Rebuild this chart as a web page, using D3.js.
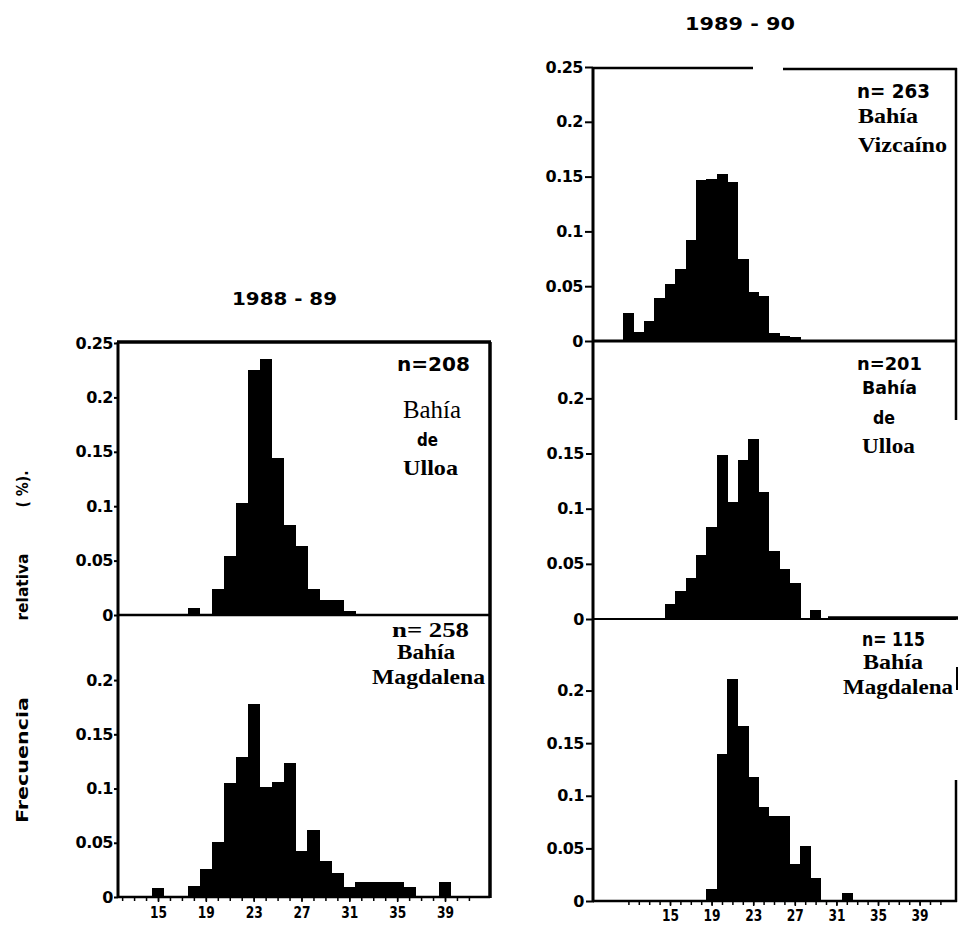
<!DOCTYPE html>
<html>
<head>
<meta charset="utf-8">
<script src="https://cdn.jsdelivr.net/npm/d3@7"></script>
<style>
body { margin: 0; background: #fff; }
svg { display: block; }
</style>
</head>
<body>
<script>
//----------------
//Data
//----------------
var yearLabels = ['1988 - 89', '1989 - 90']
var yTickValues = [0, 0.05, 0.1, 0.15, 0.2, 0.25]
var xTickLabels = [15, 19, 23, 27, 31, 35, 39]
var yTitleWords = ['Frecuencia', 'relativa', '( %).']

//1988-89 Bahia de Ulloa
var ulloa88Bins = [18, 20, 21, 22, 23, 24, 25, 26, 27, 28, 29, 30, 31]
var ulloa88Freq = [0.006, 0.024, 0.054, 0.103, 0.225, 0.235, 0.144, 0.083, 0.063, 0.024, 0.014, 0.014, 0.004]

//1988-89 Bahia Magdalena
var magda88Bins = [15, 18, 19, 20, 21, 22, 23, 24, 25, 26, 27, 28, 29, 30, 31, 32, 33, 34, 35, 36, 39]
var magda88Freq = [0.008, 0.010, 0.026, 0.051, 0.105, 0.129, 0.178, 0.101, 0.106, 0.124, 0.042, 0.062, 0.033, 0.022, 0.009, 0.014, 0.014, 0.014, 0.014, 0.009, 0.014]

//1989-90 Bahia Vizcaino
var vizca89Bins = [11, 12, 13, 14, 15, 16, 17, 18, 19, 20, 21, 22, 23, 24, 25, 26, 27]
var vizca89Freq = [0.026, 0.008, 0.018, 0.039, 0.052, 0.066, 0.092, 0.147, 0.148, 0.152, 0.145, 0.075, 0.045, 0.041, 0.007, 0.005, 0.004]

//1989-90 Bahia de Ulloa
var ulloa89Bins = [15, 16, 17, 18, 19, 20, 21, 22, 23, 24, 25, 26, 27, 29]
var ulloa89Freq = [0.014, 0.025, 0.037, 0.058, 0.083, 0.149, 0.106, 0.144, 0.163, 0.115, 0.062, 0.045, 0.033, 0.008]

//1989-90 Bahia Magdalena
var magda89Bins = [19, 20, 21, 22, 23, 24, 25, 26, 27, 28, 29, 32]
var magda89Freq = [0.011, 0.140, 0.211, 0.166, 0.118, 0.089, 0.081, 0.081, 0.035, 0.052, 0.022, 0.008]

//----------------
//Setup
//----------------
var SANS = "'DejaVu Sans', sans-serif"
var SERIF = "'Liberation Serif', 'Times New Roman', serif"

var svg = d3.select('body').append('svg')
	.attr('width', 958)
	.attr('height', 929)

svg.append('rect').attr('width', 958).attr('height', 929).attr('fill', '#fff')

var xLeft = d3.scaleLinear().domain([15, 39]).range([158, 445])
var xRight = d3.scaleLinear().domain([15, 39]).range([670, 919.6])

var panels = [
	{ bins: ulloa88Bins, freq: ulloa88Freq, x: xLeft, axisX: 118, tickSize: 4, tickPad: 1,
		y: d3.scaleLinear().domain([0, 0.25]).range([615, 343]), ticks: yTickValues },
	{ bins: magda88Bins, freq: magda88Freq, x: xLeft, axisX: 118, tickSize: 4, tickPad: 1,
		y: d3.scaleLinear().domain([0, 0.26]).range([897, 615]), ticks: yTickValues.slice(0, 5) },
	{ bins: vizca89Bins, freq: vizca89Freq, x: xRight, axisX: 593, tickSize: 8, tickPad: 2,
		y: d3.scaleLinear().domain([0, 0.25]).range([341, 67]), ticks: yTickValues },
	{ bins: ulloa89Bins, freq: ulloa89Freq, x: xRight, axisX: 594, tickSize: 8, tickPad: 2,
		y: d3.scaleLinear().domain([0, 0.252]).range([619, 341]), ticks: yTickValues.slice(0, 5) },
	{ bins: magda89Bins, freq: magda89Freq, x: xRight, axisX: 594, tickSize: 8, tickPad: 2,
		y: d3.scaleLinear().domain([0, 0.268]).range([901, 619]), ticks: yTickValues.slice(0, 5) }
]

//----------------
//Bars (crisp edges so neighbours touch without seams)
//----------------
panels.forEach(function(p){
	var rows = p.bins.map(function(b, i){ return { bin: b, f: p.freq[i] } })
	svg.append('g').attr('shape-rendering', 'crispEdges')
		.selectAll('rect').data(rows).enter().append('rect')
		.attr('x', function(d){ return p.x(d.bin - 0.5) })
		.attr('width', function(d){ return p.x(d.bin + 0.5) - p.x(d.bin - 0.5) + 0.5 })
		.attr('y', function(d){ return p.y(d.f) })
		.attr('height', function(d){ return p.y(0) - p.y(d.f) })
		.attr('fill', '#000')
})

//----------------
//Y axes
//----------------
function fmtY(d){ return d === 0 ? '0' : String(d) }

panels.forEach(function(p){
	var g = svg.append('g')
		.attr('transform', 'translate(' + p.axisX + ',0)')
		.call(d3.axisLeft(p.y).tickValues(p.ticks).tickSize(p.tickSize).tickPadding(p.tickPad).tickFormat(fmtY))
	g.select('.domain').remove()
	g.selectAll('.tick line').attr('stroke', '#000').attr('stroke-width', 2)
	g.selectAll('.tick text')
		.attr('fill', '#000')
		.style('font-family', SANS)
		.style('font-weight', 'bold')
		.style('font-size', '16px')
		.style('letter-spacing', '-0.5px')
})

//----------------
//X axes (bottom panels only)
//----------------
function drawXAxis(x, y0, from, pad){
	var minor = svg.append('g')
		.attr('transform', 'translate(0,' + y0 + ')')
		.call(d3.axisBottom(x).tickValues(d3.range(from, 42)).tickSize(4).tickFormat(''))
	minor.select('.domain').remove()
	minor.selectAll('.tick line').attr('stroke', '#000').attr('stroke-width', 1.5)

	var major = svg.append('g')
		.attr('transform', 'translate(0,' + y0 + ')')
		.call(d3.axisBottom(x).tickValues(xTickLabels).tickSize(5).tickPadding(pad).tickFormat(d3.format('d')))
	major.select('.domain').remove()
	major.selectAll('.tick line').attr('stroke', '#000').attr('stroke-width', 1.5)
	major.selectAll('.tick text')
		.attr('fill', '#000')
		.attr('textLength', 17)
		.attr('lengthAdjust', 'spacingAndGlyphs')
		.style('font-family', SANS)
		.style('font-weight', 'bold')
		.style('font-size', '16px')
}
drawXAxis(xLeft, 897, 12, 5)
drawXAxis(xRight, 901, 11, 4)

//----------------
//Frames
//----------------
function line(x1, y1, x2, y2, w){
	svg.append('line')
		.attr('x1', x1).attr('y1', y1).attr('x2', x2).attr('y2', y2)
		.attr('stroke', '#000').attr('stroke-width', w)
}

//left column
line(118, 342, 118, 898, 3)
line(117, 342, 491, 342, 3.5)
line(490, 342, 490, 898, 3.5)
line(118, 615, 490, 615, 2.5)
line(118, 897, 490, 897, 2.5)

//right column
line(593, 67, 593, 902, 3)
line(593, 68, 753, 68, 2.5)
line(783, 69, 957, 69, 2.5)
line(956, 68, 956, 420, 2.5)
line(957, 667, 957, 690, 2)
line(956, 780, 956, 902, 2.5)
line(593, 341, 956, 341, 3)
line(594, 619, 956, 619, 2)
line(828, 618, 958, 618, 3.5)
line(593, 901, 957, 901, 2.5)

//----------------
//Titles and annotations
//----------------
function addText(str, x, y, family, weight, size, width){
	var t = svg.append('text')
		.attr('x', x).attr('y', y)
		.attr('fill', '#000')
		.style('font-family', family)
		.style('font-weight', weight)
		.style('font-size', size + 'px')
		.text(str)
	if ( width ) { t.attr('textLength', width).attr('lengthAdjust', 'spacingAndGlyphs') }
	return t
}

addText(yearLabels[0], 232, 305, SANS, 'bold', 18, 105)
addText(yearLabels[1], 685, 30, SANS, 'bold', 18, 110)

//1988-89 Ulloa
addText('n=208', 397, 371, SANS, 'bold', 20, 73)
addText('Bahía', 403, 418, SERIF, 'normal', 25, 58)
addText('de', 417, 446, SANS, 'bold', 18, 21)
addText('Ulloa', 403, 475, SERIF, 'bold', 21, 55)

//1988-89 Magdalena
addText('n= 258', 392, 637, SERIF, 'bold', 22, 77)
addText('Bahía', 397, 659, SERIF, 'bold', 21, 58)
addText('Magdalena', 372, 684, SERIF, 'bold', 21, 113)

//1989-90 Vizcaino
addText('n= 263', 857, 98, SANS, 'bold', 19, 73)
addText('Bahía', 858, 123, SERIF, 'bold', 21, 60)
addText('Vizcaíno', 858, 152, SERIF, 'bold', 21, 89)

//1989-90 Ulloa
addText('n=201', 857, 370, SANS, 'bold', 18, 65)
addText('Bahía', 862, 394, SANS, 'bold', 18, 55)
addText('de', 873, 424, SANS, 'bold', 18, 22)
addText('Ulloa', 862, 453, SERIF, 'bold', 21, 53)

//1989-90 Magdalena
addText('n= 115', 862, 646, SANS, 'bold', 19, 63)
addText('Bahía', 863, 669, SERIF, 'bold', 21, 60)
addText('Magdalena', 843, 694, SERIF, 'bold', 20, 110)

//Y title, rotated word by word
var yTitlePos = [[760, 126], [587, 67], [489, 37]]
yTitleWords.forEach(function(w, i){
	svg.append('text')
		.attr('transform', 'translate(28,' + yTitlePos[i][0] + ') rotate(-90)')
		.attr('text-anchor', 'middle')
		.attr('textLength', yTitlePos[i][1])
		.attr('lengthAdjust', 'spacingAndGlyphs')
		.attr('fill', '#000')
		.style('font-family', SANS)
		.style('font-weight', 'bold')
		.style('font-size', '15px')
		.text(w)
})
</script>
</body>
</html>
